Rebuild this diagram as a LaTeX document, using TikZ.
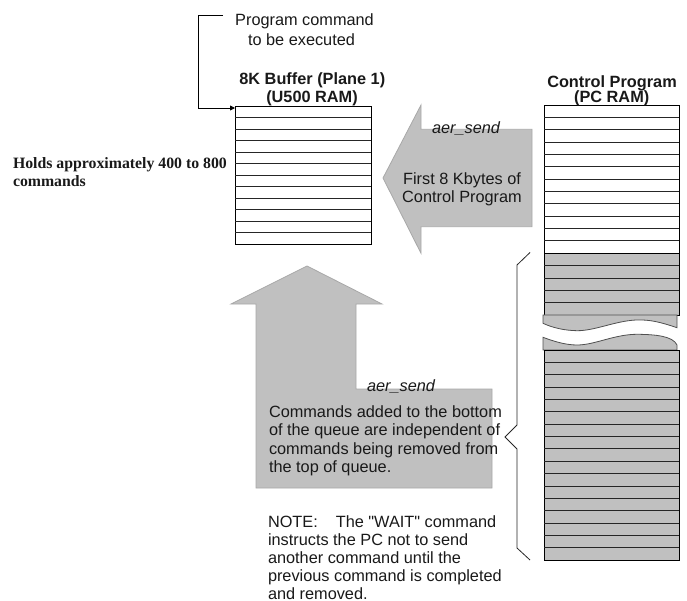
\documentclass[tikz,border=0pt]{standalone}
\usepackage{fontspec}
\setmainfont{Liberation Sans}[Ligatures=TeXOff]
\newfontfamily\timesfont{Liberation Serif}
\usetikzlibrary{arrows.meta}

\definecolor{queuegrey}{HTML}{C0C0C0}
\definecolor{arrowedge}{HTML}{A8A8A8}
\definecolor{breakedge}{HTML}{505050}

\begin{document}
\begin{tikzpicture}[x=1pt,y=-1pt,
  lbl/.style={inner sep=0pt, outer sep=0pt, text=black!90, font=\fontsize{16.3}{18}\selectfont},
  ttl/.style={lbl, font=\fontsize{16.3}{18}\selectfont\bfseries},
  itl/.style={lbl, font=\fontsize{16.3}{18}\selectfont\itshape},
  serifbold/.style={lbl, font=\fontsize{15.8}{18}\selectfont\timesfont\bfseries},
  bigarrow/.style={fill=queuegrey, draw=arrowedge, line width=0.8pt},
  boxline/.style={draw=black, line width=0.9pt},
  rowline/.style={draw=black!85, line width=0.7pt},
  breakpiece/.style={fill=queuegrey, draw=breakedge, line width=0.8pt},
  bracket/.style={draw=black!85, line width=0.8pt},
  feed/.style={draw=black, line width=0.8pt, -{Triangle[length=5pt,width=5pt]}}]

\useasboundingbox (0,0) rectangle (687,601);

% ---- wide grey arrows ----
% left-pointing: control program -> buffer
\path[bigarrow] (383,178) -- (421,105) -- (421,129.3) -- (532,129.3)
  -- (532,226.7) -- (421,226.7) -- (421,253.3) -- cycle;
% upward L-shaped arrow: bottom of queue -> buffer
\path[bigarrow] (307,266) -- (382,304) -- (356,304) -- (356,389)
  -- (492,389) -- (492,488) -- (256,488) -- (256,304) -- (231,304) -- cycle;

% ---- 8K buffer ----
\node[boxline, fill=white, minimum width=136pt, minimum height=138pt,
      inner sep=0pt, outer sep=0pt, anchor=north west] (buf) at (235,106) {};
\foreach \k in {1,...,11}
  \draw[rowline] ([yshift=-\k*11.5pt]buf.north west) -- ([yshift=-\k*11.5pt]buf.north east);

% ---- control program (PC RAM) ----
% white rows already sent
\node[boxline, fill=white, minimum width=135pt, minimum height=148.2pt,
      inner sep=0pt, outer sep=0pt, anchor=north west] (ctl) at (544,105) {};
\foreach \k in {1,...,11}
  \draw[rowline] ([yshift=-\k*12.35pt]ctl.north west) -- ([yshift=-\k*12.35pt]ctl.north east);
% grey rows still queued, upper part
\node[boxline, fill=queuegrey, minimum width=135pt, minimum height=61.75pt,
      inner sep=0pt, outer sep=0pt, anchor=north west] (ctlup) at (ctl.south west) {};
\foreach \k in {1,...,4}
  \draw[rowline] ([yshift=-\k*12.35pt]ctlup.north west) -- ([yshift=-\k*12.35pt]ctlup.north east);
% torn edges of the break
\path[breakpiece] (543,314.95) -- (677,314.95) -- (677,327.7)
  .. controls (660,322) and (650,319.5) .. (636,320)
  .. controls (615,321) and (595,330.8) .. (577,330.7)
  .. controls (565,330.5) and (553,328) .. (543,323.3) -- cycle;
\path[breakpiece] (543,350) -- (543,337.3)
  .. controls (553,341) and (565,345) .. (577,345)
  .. controls (595,345) and (615,334) .. (638,334.3)
  .. controls (655,334.5) and (673,336) .. (677,345) -- (677,350) -- cycle;
% grey rows still queued, lower part
\node[boxline, fill=queuegrey, minimum width=135pt, minimum height=209.95pt,
      inner sep=0pt, outer sep=0pt, anchor=north west] (ctllow) at (544,350) {};
\foreach \k in {1,...,16}
  \draw[rowline] ([yshift=-\k*12.35pt]ctllow.north west) -- ([yshift=-\k*12.35pt]ctllow.north east);

% ---- bracket spanning the queued rows ----
\draw[bracket] (530,252.5) -- (517,265) -- (517,425) -- (505,437) -- (517,449)
  -- (517,548) -- (530,560);

% ---- feed from the program command label into the buffer ----
\coordinate (progtail) at (223,15.5);
\coordinate (elbow) at (198,15.5);
\coordinate (bufin) at ([yshift=-2pt]buf.north west);
\draw[feed] (progtail) -- (elbow) |- (bufin);

% ---- labels ----
\node[lbl, anchor=base] (prog1) at (304.5,26) {Program command};
\node[lbl, anchor=base] (prog2) at (301.5,45.5) {to be executed};

\node[ttl, anchor=base] (buft1) at (312.3,85) {8K Buffer (Plane 1)};
\node[ttl, anchor=base] (buft2) at (312,102.3) {(U500 RAM)};

\node[ttl, anchor=base] (ctlt1) at (612,87.3) {Control Program};
\node[ttl, anchor=base] (ctlt2) at (611.7,102.7) {(PC RAM)};

\node[serifbold, anchor=base west] (holds1) at (13,169) {Holds approximately 400 to 800};
\node[serifbold, anchor=base west] (holds2) at (13,186.5) {commands};

\node[itl, anchor=base] (send1) at (466,133.3) {aer\_send};
\node[lbl, anchor=base] (first1) at (462,185) {First 8 Kbytes of};
\node[lbl, anchor=base] (first2) at (462,202.7) {Control Program};

\node[itl, anchor=base] (send2) at (401,391) {aer\_send};
\node[lbl, anchor=base west] (cmd1) at (269,417) {Commands added to the bottom};
\node[lbl, anchor=base west] (cmd2) at (269,435.5) {of the queue are independent of};
\node[lbl, anchor=base west] (cmd3) at (269,454) {commands being removed from};
\node[lbl, anchor=base west] (cmd4) at (269,472.5) {the top of queue.};

\node[lbl, anchor=base west] (note1) at (268,527) {NOTE:\hspace{18pt}The "WAIT" command};
\node[lbl, anchor=base west] (note2) at (268,545) {instructs the PC not to send};
\node[lbl, anchor=base west] (note3) at (268,563) {another command until the};
\node[lbl, anchor=base west] (note4) at (268,581) {previous command is completed};
\node[lbl, anchor=base west] (note5) at (268,599) {and removed.};

\end{tikzpicture}
\end{document}
